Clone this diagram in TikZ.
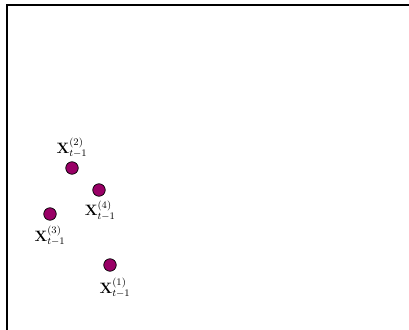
\documentclass[tikz,border=0pt]{standalone}
\usepackage{amsmath,amssymb}
\usepackage{xcolor}
\usepackage{tikz}
\usetikzlibrary{positioning}

\definecolor{particle}{HTML}{990066}

\begin{document}
\begin{tikzpicture}[
  x=0.8pt, y=0.8pt,
  pt/.style={circle, draw=black, fill=particle, line width=0.6pt,
             minimum size=10pt, inner sep=0pt},
  axis/.style={line width=1.6pt, line cap=rect},
  every label/.style={font=\large, inner sep=1pt}
]
\useasboundingbox (0,0) rectangle (409,329);

% frame corner
\coordinate (corner) at (7,324);
\coordinate (xend) at (412,324);
\coordinate (yend) at (7,-3);
\draw[axis] (yend) -- (corner) -- (xend);

% particles at t-1
\node[pt, label={[label distance=1.5pt]above:$\mathbf{X}_{t-1}^{(2)}$}] (p2) at (72,161) {};
\node[pt, label={[label distance=2pt, xshift=1pt]below:$\mathbf{X}_{t-1}^{(4)}$}] (p4) at (99,139) {};
\node[pt, label={[label distance=3pt]below:$\mathbf{X}_{t-1}^{(3)}$}] (p3) at (50,115) {};
\node[pt, label={[label distance=4pt, xshift=4pt]below:$\mathbf{X}_{t-1}^{(1)}$}] (p1) at (110,64) {};
\end{tikzpicture}
\end{document}
